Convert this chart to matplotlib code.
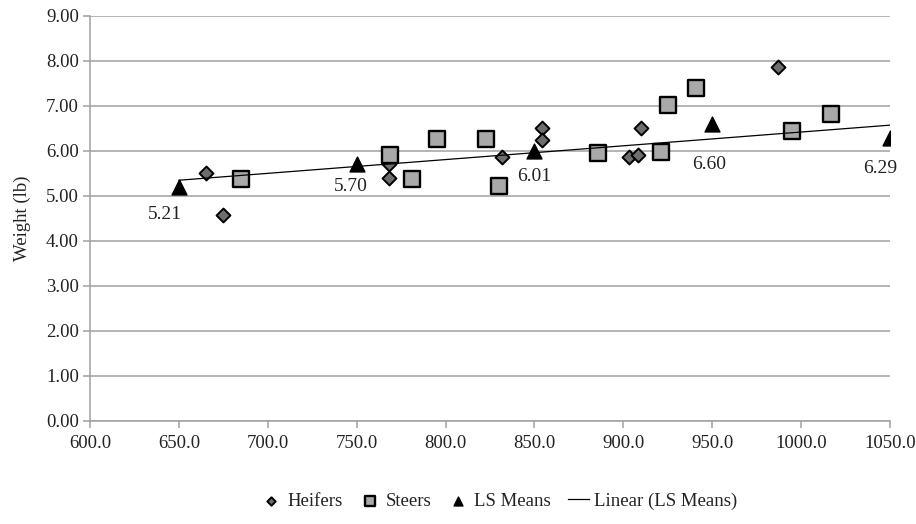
import matplotlib
matplotlib.use("Agg")
import matplotlib.pyplot as plt
import numpy as np

# heifers (diamonds)
heifer_x = [665, 675, 768, 768, 832, 854, 854, 903, 908, 910, 987]
heifer_y = [5.50, 4.58, 5.72, 5.40, 5.86, 6.52, 6.25, 5.86, 5.92, 6.50, 7.87]

# steers (squares)
steer_x = [685, 769, 781, 795, 823, 830, 886, 921, 925, 941, 995, 1017]
steer_y = [5.37, 5.92, 5.37, 6.27, 6.27, 5.23, 5.95, 5.98, 7.02, 7.40, 6.45, 6.83]

# LS means (triangles)
ls_x = [650, 750, 850, 950, 1050]
ls_y = [5.21, 5.70, 6.01, 6.60, 6.29]
ls_labels = ["5.21", "5.70", "6.01", "6.60", "6.29"]
label_offsets = [(-10, -20), (-4, -16), (0, -19), (-2, -29), (-7, -22)]

plt.rcParams["font.family"] = ["Liberation Serif", "DejaVu Serif"]
plt.rcParams["font.size"] = 13.5

fig = plt.figure(figsize=(9.16, 5.24), dpi=100)
ax = fig.add_axes([0.0983, 0.1966, 0.8733, 0.7729])

grid_col = "#a0a0a0"
ax.set_xlim(600, 1050)
ax.set_ylim(0, 9)
ax.set_xticks(np.arange(600, 1051, 50))
ax.set_xticklabels([f"{v:.1f}" for v in np.arange(600, 1051, 50)])
ax.set_yticks(np.arange(0, 9.01, 1))
ax.set_yticklabels([f"{v:.2f}" for v in np.arange(0, 9.01, 1)])
ax.yaxis.grid(True, color=grid_col, linewidth=1.1)
ax.set_axisbelow(True)
for s in ["top", "right"]:
    ax.spines[s].set_visible(False)
for s in ["left", "bottom"]:
    ax.spines[s].set_color(grid_col)
    ax.spines[s].set_linewidth(1.1)
ax.tick_params(axis="both", colors=grid_col, labelcolor="#222222", length=5, width=1.1)
ax.tick_params(axis="x", pad=5)
ax.tick_params(axis="y", pad=3)
ax.set_ylabel("Weight (lb)", color="#222222", labelpad=11)

ax.scatter(heifer_x, heifer_y, marker="D", s=50, facecolor="#6e6e6e",
           edgecolor="black", linewidth=1.4, label="Heifers", zorder=3)
ax.scatter(steer_x, steer_y, marker="s", s=125, facecolor="#a9a9a9",
           edgecolor="black", linewidth=1.7, label="Steers", zorder=3)
ax.scatter(ls_x, ls_y, marker="^", s=115, facecolor="black",
           edgecolor="black", label="LS Means", zorder=4)

# linear trend of the LS means
coef = np.polyfit(ls_x, ls_y, 1)
fit_x = np.array([ls_x[0], ls_x[-1]])
ax.plot(fit_x, np.polyval(coef, fit_x), color="black", linewidth=0.9,
        label="Linear (LS Means)", zorder=3.5)

for x, y, t, off in zip(ls_x, ls_y, ls_labels, label_offsets):
    ax.annotate(t, (x, y), xytext=off, textcoords="offset points",
                ha="center", va="center", fontsize=14, color="#222222",
                annotation_clip=False)

leg = fig.legend(loc="lower center", bbox_to_anchor=(0.545, -0.005), ncol=4,
                 frameon=False, handletextpad=0.3, columnspacing=0.9,
                 handlelength=1.1, markerscale=0.6)
for t in leg.get_texts():
    t.set_color("#222222")

fig.savefig("out.png", dpi=100)
